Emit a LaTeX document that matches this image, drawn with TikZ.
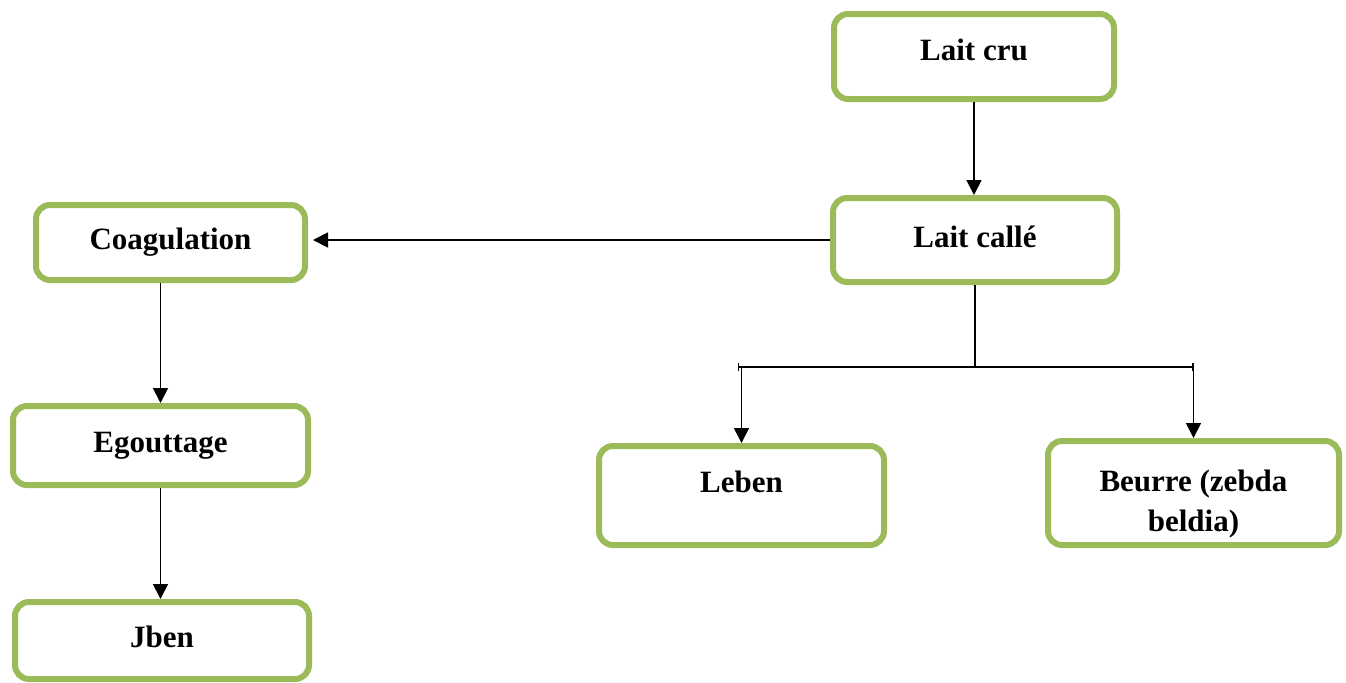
\documentclass[tikz,border=0pt]{standalone}
\usepackage{fontspec}
\setmainfont{Liberation Serif}
\usepackage{xcolor}
\usetikzlibrary{arrows.meta}
\definecolor{boxgreen}{RGB}{155,187,89}

\begin{document}
\begin{tikzpicture}[x=0.5pt, y=-0.5pt,
    stage/.style={draw=boxgreen, line width=3pt, rounded corners=7pt, fill=white,
      font=\fontsize{15.5}{20}\selectfont\bfseries, align=center, inner sep=0pt},
    flow/.style={line width=0.9pt, -{Triangle[width=7.5pt,length=7.5pt]}}]
  \useasboundingbox (0,0) rectangle (1346,682);
  % --- stages ---------------------------------------------------------
  \node[stage, minimum width=140pt, minimum height=42.5pt, text depth=6.5pt]
       (cru) at (974,56.5) {Lait cru};
  \node[stage, minimum width=142pt, minimum height=42pt, text depth=3pt]
       (calle) at (975,240) {Lait callé};
  \node[stage, minimum width=134.5pt, minimum height=37.5pt]
       (coag) at (170.5,242.5) {Coagulation};
  \node[stage, minimum width=147.5pt, minimum height=39.5pt]
       (egout) at (160.5,445.5) {Egouttage};
  \node[stage, minimum width=147pt, minimum height=38.5pt, text depth=3.5pt]
       (jben) at (162,640.5) {Jben};
  \node[stage, minimum width=142.5pt, minimum height=49.5pt, text depth=13.5pt]
       (leben) at (741.5,495.5) {Leben};
  \node[stage, minimum width=145.5pt, minimum height=52pt, text height=42pt]
       (beurre) at (1193.5,493) {Beurre (zebda\\beldia)};
  \coordinate (fork) at (975,367);
  % --- connectors -----------------------------------------------------
  \draw[flow] (cru.south) -- (cru.south |- calle.north);
  \draw[flow, shorten >=2.5pt] (calle.west) -- (calle.west -| coag.east);
  \draw[flow] (egout.north |- coag.south) -- (egout.north);
  \draw[flow] (egout.south) -- (egout.south |- jben.north);
  \draw[line width=0.9pt] (calle.south) -- (fork);
  \draw[line width=0.9pt, {Bar[width=4pt]}-{Bar[width=4pt]}, shorten <=-2pt]
       (leben.north |- fork) -- (beurre.north |- fork);
  \draw[flow] (leben.north |- fork) -- (leben.north);
  \draw[flow] (beurre.north |- fork) -- (beurre.north);
\end{tikzpicture}
\end{document}
